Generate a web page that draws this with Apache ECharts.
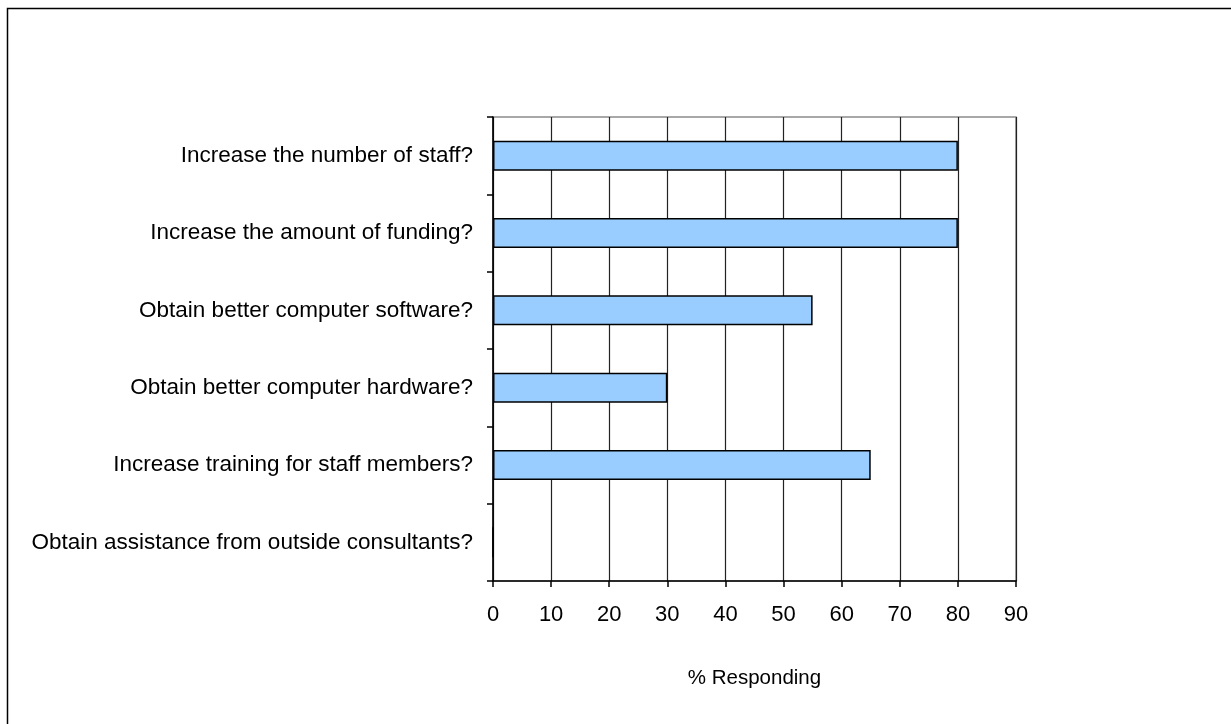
<!DOCTYPE html>
<html>
<head>
<meta charset="utf-8">
<script src="https://cdn.jsdelivr.net/npm/echarts@6/dist/echarts.min.js"></script>
<style>
  html, body { margin: 0; padding: 0; background: #fff; }
  #chart { width: 1231px; height: 724px; }
</style>
</head>
<body>
<div id="chart"></div>
<script>
// Survey questions, top to bottom
const categories = [
  'Increase the number of staff?',
  'Increase the amount of funding?',
  'Obtain better computer software?',
  'Obtain better computer hardware?',
  'Increase training for staff members?',
  'Obtain assistance from outside consultants?'
];
// Share of respondents answering yes (%)
const responding = [80, 80, 55, 30, 65, 0];
const xTicks = [0, 10, 20, 30, 40, 50, 60, 70, 80, 90];

const FONT = '"Liberation Sans", Arial, sans-serif';

const chart = echarts.init(document.getElementById('chart'), null, { renderer: 'canvas' });

chart.setOption({
  backgroundColor: '#ffffff',
  animation: false,
  graphic: [{
    type: 'rect',
    shape: { x: 7.5, y: 8.5, width: 1400, height: 900 },
    style: { fill: 'none', stroke: '#000', lineWidth: 1.5 },
    z: 100
  }],
  grid: {
    left: 493, right: 215, top: 117, bottom: 143,
    show: true, borderColor: '#8c8c8c', borderWidth: 1.5,
    containLabel: false
  },
  xAxis: {
    type: 'value',
    min: xTicks[0],
    max: xTicks[xTicks.length - 1],
    interval: 10,
    name: '% Responding',
    nameLocation: 'middle',
    nameGap: 87,
    nameTextStyle: { fontFamily: FONT, fontSize: 20.5, color: '#000' },
    axisLine: { show: true, lineStyle: { color: '#000', width: 1.5 } },
    axisTick: { show: true, length: 6, inside: false, lineStyle: { color: '#000', width: 1.5 } },
    axisLabel: { fontFamily: FONT, fontSize: 22, color: '#000', margin: 23 },
    splitLine: { show: true, lineStyle: { color: '#222', width: 1.2 } }
  },
  yAxis: {
    type: 'category',
    data: categories,
    inverse: true,
    axisLine: { show: true, lineStyle: { color: '#000', width: 1.5 } },
    axisTick: { show: true, length: 6, alignWithLabel: false, lineStyle: { color: '#000', width: 1.5 } },
    axisLabel: { fontFamily: FONT, fontSize: 22.5, color: '#000', margin: 20 },
    splitLine: { show: false }
  },
  series: [{
    type: 'bar',
    data: responding,
    barWidth: 30,
    itemStyle: { color: '#99ccff', borderColor: '#000', borderWidth: 1.5 },
    z: 3
  }]
});
</script>
</body>
</html>
